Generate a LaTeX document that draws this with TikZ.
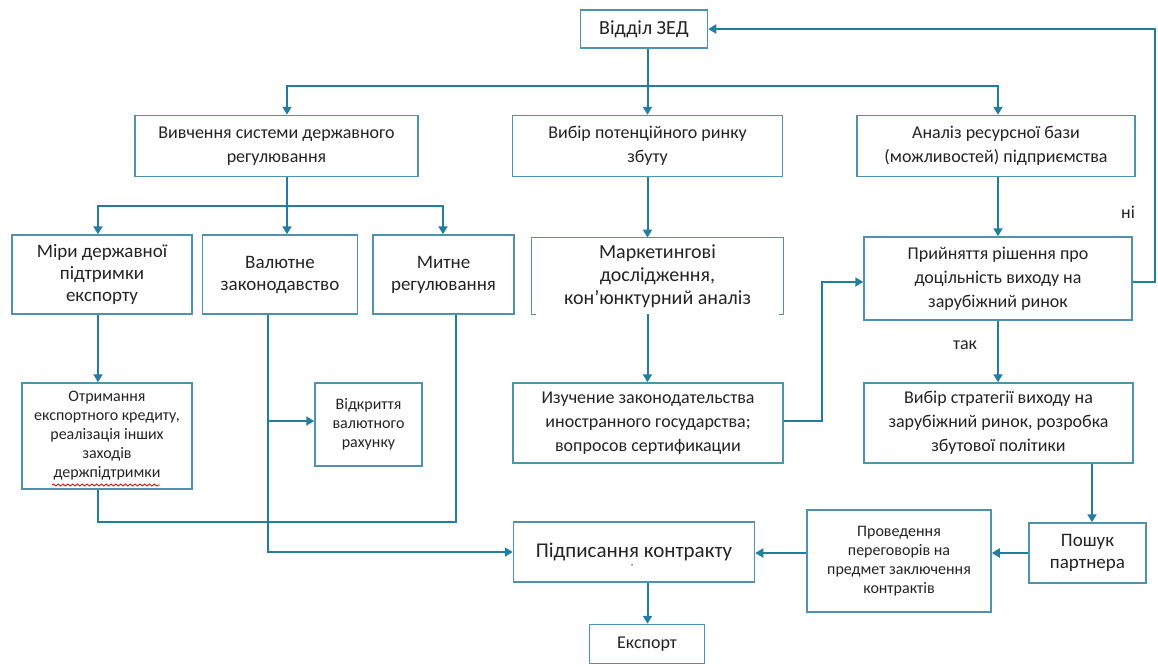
\documentclass[tikz,border=0pt]{standalone}
\usepackage{fontspec}
\setmainfont{Carlito}
\usetikzlibrary{arrows.meta,decorations.pathmorphing}
\definecolor{linkteal}{RGB}{34,126,160}
\definecolor{boxteal}{RGB}{78,146,172}
\definecolor{inkgray}{RGB}{35,35,35}

\begin{document}
\begin{tikzpicture}[x=0.5pt,y=-0.5pt,
  box/.style={draw=boxteal,line width=0.75pt,align=center,inner sep=1pt,text=inkgray},
  link/.style={draw=linkteal,line width=1pt},
  arr/.style={link,-{Triangle[width=4.5pt,length=4pt]}},
  ftop/.style={font=\fontsize{9}{12}\selectfont},
  fmid/.style={font=\fontsize{9.5}{11}\selectfont},
  fsmall/.style={font=\fontsize{8}{9.5}\selectfont},
  lbl/.style={text=inkgray,font=\fontsize{9}{11}\selectfont}]
  \useasboundingbox (0,0) rectangle (1158,666);
  % boxes
  \node[box,font=\fontsize{10}{12}\selectfont,minimum width=63.5pt,minimum height=19pt] (zed) at (644,29) {Відділ ЗЕД};
  \node[box,ftop,minimum width=141.5pt,minimum height=30.5pt] (vyvch) at (276.5,146) {Вивчення системи державного\\регулювання};
  \node[box,ftop,minimum width=135pt,minimum height=30.5pt] (vybir) at (647.5,146) {Вибір потенційного ринку\\збуту};
  \node[box,ftop,minimum width=139pt,minimum height=30.5pt] (analiz) at (996,146) {Аналіз ресурсної бази\\(можливостей) підприємства};
  \node[box,fmid,minimum width=90pt,minimum height=39.5pt] (miry) at (102,274.5) {Міри державної\\підтримки\\експорту};
  \node[box,fmid,minimum width=77.5pt,minimum height=39.5pt] (valut) at (280,274.5) {Валютне\\законодавство};
  \node[box,fmid,minimum width=70.5pt,minimum height=39.5pt] (mytne) at (443.5,274.5) {Митне\\регулювання};
  \node[align=center,font=\fontsize{10}{11.5}\selectfont,text=inkgray,minimum width=125.5pt,minimum height=38pt,inner sep=1pt] (market) at (657.5,276) {Маркетингові\\дослідження,\\кон’юнктурний аналіз};
  \draw[boxteal,line width=0.75pt] ([xshift=2pt]market.south west) -- (market.south west) -- (market.north west) -- (market.north east) -- (market.south east) -- ([xshift=-2pt]market.south east);
  \node[box,ftop,minimum width=134pt,minimum height=41.5pt] (pryin) at (998,278.5) {Прийняття рішення про\\доцільність виходу на\\зарубіжний ринок};
  \node[box,fsmall,minimum width=85pt,minimum height=53pt] (otrym) at (107,436) {Отримання\\експортного кредиту,\\реалізація інших\\заходів\\держпідтримки};
  \node[box,fsmall,minimum width=53.5pt,minimum height=41.5pt] (vidkr) at (368.5,424.5) {Відкриття\\валютного\\рахунку};
  \node[box,ftop,minimum width=135pt,minimum height=40pt] (izuch) at (648,423) {Изучение законодательства\\иностранного государства;\\вопросов сертификации};
  \node[box,ftop,minimum width=134.5pt,minimum height=40pt] (strat) at (998.5,423) {Вибір стратегії виходу на\\зарубіжний ринок, розробка\\збутової політики};
  \node[box,fmid,minimum width=58.5pt,minimum height=30pt] (poshuk) at (1087.5,553) {Пошук\\партнера};
  \node[box,fsmall,minimum width=92pt,minimum height=51pt] (proved) at (899,561) {Проведення\\переговорів на\\предмет заключення\\контрактів};
  \node[box,font=\fontsize{10.5}{12}\selectfont,minimum width=120.5pt,minimum height=30pt] (pidpys) at (634,552) {Підписання контракту};
  \node[text=inkgray,font=\fontsize{5}{5}\selectfont,inner sep=0pt] (speck) at (632,566) {,};
  \node[box,ftop,minimum width=57.5pt,minimum height=19.5pt] (eksport) at (647,644) {Експорт};
  \node[lbl] (yes) at (965,345) {так};
  \node[lbl] (no) at (1128,212) {ні};
  \draw[red!80!black,line width=0.4pt,decorate,decoration={snake,amplitude=0.5pt,segment length=2.4pt}] (52,485) -- (160,485);
  % connectors
  \coordinate (topL) at (287,86);
  \coordinate (topR) at (998,86);
  \coordinate (midL) at (98,206);
  \coordinate (midR) at (443,206);
  \coordinate (back) at (1155,282);
  \coordinate (jog) at (822,421);
  \coordinate (drop) at (1092,500);
  \coordinate (merge) at (456,522);
  \coordinate (cur) at (268,421);
  \draw[arr] (zed.south -| vybir.north) -- (vybir.north);
  \draw[arr] (topL -| vybir.north) -- (topL) -- (vyvch.north -| topL);
  \draw[arr] (topL -| vybir.north) -- (topR) -- (analiz.north -| topR);
  \draw[arr] (vyvch.south -| topL) -- (valut.north -| topL);
  \draw[arr] (topL |- midL) -- (midL) -- (miry.north -| midL);
  \draw[arr] (topL |- midL) -- (midR) -- (mytne.north -| midR);
  \draw[arr] (vybir.south) -- (market.north -| vybir.south);
  \draw[arr] (market.south -| vybir.south) -- (izuch.north -| vybir.south);
  \draw[arr] (analiz.south -| topR) -- (pryin.north -| topR);
  \draw[arr] (pryin.south -| topR) -- (strat.north -| topR);
  \draw[arr] (pryin.east |- back) -- (back) |- (zed.east);
  \draw[arr] (izuch.east |- jog) -- (jog) |- (pryin.west |- back);
  \draw[arr] (strat.south -| drop) -- (poshuk.north -| drop);
  \draw[arr] (poshuk.west) -- (proved.east |- poshuk.west);
  \draw[arr] (proved.west |- poshuk.west) -- (pidpys.east |- poshuk.west);
  \draw[arr] (pidpys.south -| vybir.south) -- (eksport.north -| vybir.south);
  \draw[arr] (miry.south -| midL) -- (otrym.north -| midL);
  \draw[link] (otrym.south -| midL) |- (merge) -- (mytne.south -| merge);
  \draw[arr] (valut.south -| cur) |- (pidpys.west);
  \draw[arr] (cur) -- (vidkr.west |- cur);
\end{tikzpicture}
\end{document}
